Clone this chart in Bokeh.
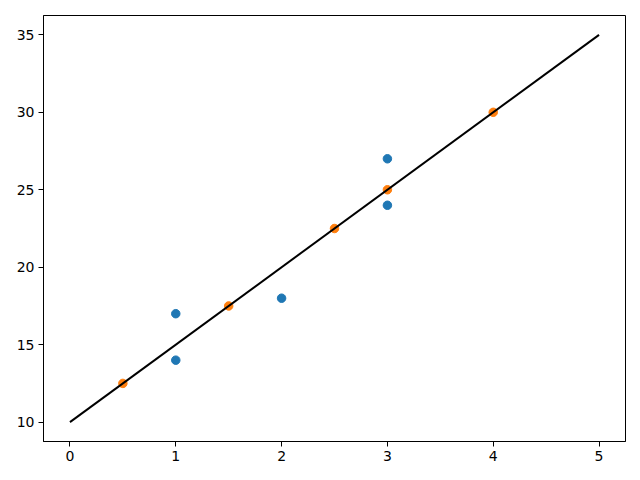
from bokeh.plotting import figure
from bokeh.models import FixedTicker, Range1d
from bokeh.embed import file_html
from bokeh.resources import INLINE

blue_x = [1, 1, 2, 3, 3]
blue_y = [14, 17, 18, 24, 27]
orange_x = [0.5, 1.5, 2.5, 3, 4]
orange_y = [12.5, 17.5, 22.5, 25, 30]
line_x = [0, 5]
line_y = [10, 35]
x_ticks = [0, 1, 2, 3, 4, 5]
y_ticks = [10, 15, 20, 25, 30, 35]

p = figure(width=640, height=480, output_backend="svg", toolbar_location=None,
           x_range=Range1d(-0.25, 5.25), y_range=Range1d(8.75, 36.25),
           min_border_left=43, min_border_right=15, min_border_top=15, min_border_bottom=39)
p.grid.visible = False
p.outline_line_color = "black"
p.outline_line_width = 1
p.background_fill_color = "white"
p.border_fill_color = "white"

p.scatter(blue_x, blue_y, size=8.5, color="#1f77b4")
p.scatter(orange_x, orange_y, size=8.5, color="#ff7f0e")
p.line(line_x, line_y, color="black", line_width=2)

p.xaxis.ticker = FixedTicker(ticks=x_ticks)
p.yaxis.ticker = FixedTicker(ticks=y_ticks)
for ax in (p.xaxis[0], p.yaxis[0]):
    ax.minor_tick_line_color = None
    ax.major_tick_out = 5
    ax.major_tick_in = 0
    ax.axis_line_color = "black"
    ax.major_tick_line_color = "black"
    ax.major_label_text_font = "DejaVu Sans"
    ax.major_label_text_font_size = "14px"
    ax.major_label_text_color = "black"
    ax.major_label_standoff = 4

open("out.html", "w").write(file_html(p, INLINE))
